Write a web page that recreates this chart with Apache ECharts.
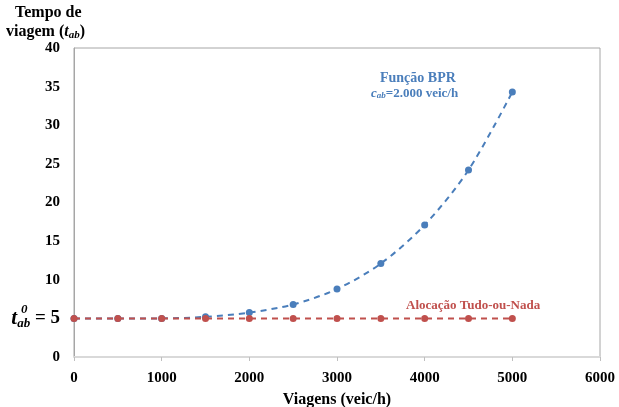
<!DOCTYPE html>
<html>
<head>
  <meta charset="UTF-8">
  <title>Função BPR</title>
  <script src="https://cdn.jsdelivr.net/npm/echarts@6/dist/echarts.min.js"></script>
  <style>
    html, body { margin: 0; padding: 0; background: #fff; }
    #chart { width: 619px; height: 407px; }
  </style>
</head>
<body>
  <div id="chart"></div>
  <script>
    // viagens (veic/h)
    var viagens = [0, 500, 1000, 1500, 2000, 2500, 3000, 3500, 4000, 4500, 5000];
    // tempo de viagem - função BPR
    var tempoBPR = [5, 5, 5.0, 5.2, 5.75, 6.8, 8.8, 12.1, 17.1, 24.2, 34.3];
    // alocação tudo-ou-nada
    var tempoTON = [5, 5, 5, 5, 5, 5, 5, 5, 5, 5, 5];

    var azul = '#4a7ebb';
    var vermelho = '#c0504d';
    var fonte = '"Liberation Serif", "Times New Roman", serif';

    function pares(xs, ys) {
      return xs.map(function (x, i) { return [x, ys[i]]; });
    }

    var chart = echarts.init(document.getElementById('chart'));

    var option = {
      animation: false,
      textStyle: { fontFamily: fonte },
      grid: {
        left: 74, right: 19, top: 48, bottom: 50,
        outerBoundsMode: 'none',
        containLabel: false,
        show: true, borderColor: '#a6a6a6', borderWidth: 1
      },
      xAxis: {
        type: 'value',
        min: 0, max: 6000, interval: 1000,
        name: 'Viagens (veic/h)',
        nameLocation: 'middle',
        nameGap: 35,
        nameTextStyle: { fontFamily: fonte, fontWeight: 'bold', fontSize: 16, color: '#000' },
        axisLine: { show: true, lineStyle: { color: '#d9d9d9', width: 2 } },
        axisTick: { show: true, length: 4, lineStyle: { color: '#bfbfbf' } },
        axisLabel: {
          fontFamily: fonte, fontWeight: 'bold', fontSize: 15, color: '#000', margin: 14,
          formatter: function (v) { return String(v); }
        },
        splitLine: { show: false }
      },
      yAxis: {
        type: 'value',
        min: 0, max: 40, interval: 5,
        axisLine: { show: true, lineStyle: { color: '#a6a6a6', width: 1 } },
        axisTick: { show: false },
        splitLine: { show: false },
        axisLabel: {
          fontFamily: fonte, fontWeight: 'bold', fontSize: 15, color: '#000', margin: 14,
          formatter: function (v) {
            if (v === 5) return '{t|t}{sub|ab}{eq| = 5}';
            return String(v);
          },
          rich: {
            t: { fontFamily: fonte, fontWeight: 'bold', fontStyle: 'italic', fontSize: 21, color: '#000' },
            sub: { fontFamily: fonte, fontWeight: 'bold', fontStyle: 'italic', fontSize: 13, color: '#000',
                   verticalAlign: 'bottom', padding: [10, 0, 0, 0] },
            eq: { fontFamily: fonte, fontWeight: 'bold', fontSize: 19, color: '#000' }
          }
        }
      },
      graphic: [
        {
          type: 'text', left: 15, top: 5,
          style: {
            text: 'Tempo de',
            fontFamily: fonte, fontWeight: 'bold', fontSize: 16, fill: '#000'
          }
        },
        {
          type: 'text', left: 6, top: 24,
          style: {
            text: '{n|viagem (}{t|t}{s|ab}{n|)}',
            rich: {
              n: { fontFamily: fonte, fontWeight: 'bold', fontSize: 16, fill: '#000' },
              t: { fontFamily: fonte, fontWeight: 'bold', fontStyle: 'italic', fontSize: 16, fill: '#000' },
              s: { fontFamily: fonte, fontWeight: 'bold', fontStyle: 'italic', fontSize: 11, fill: '#000',
                   verticalAlign: 'bottom', padding: [6, 0, 0, 0] }
            }
          }
        },
        {
          // expoente "0" de t0ab
          type: 'text', left: 21, top: 303,
          style: {
            text: '0',
            fontFamily: fonte, fontWeight: 'bold', fontStyle: 'italic', fontSize: 13, fill: '#000'
          }
        },
        {
          type: 'text', left: 380, top: 71,
          style: {
            text: 'Função BPR',
            fontFamily: fonte, fontWeight: 'bold', fontSize: 14, fill: azul
          }
        },
        {
          type: 'text', left: 371, top: 87,
          style: {
            text: '{c|c}{s|ab}{n|=2.000 veic/h}',
            rich: {
              c: { fontFamily: fonte, fontWeight: 'bold', fontStyle: 'italic', fontSize: 13, fill: azul },
              s: { fontFamily: fonte, fontWeight: 'bold', fontStyle: 'italic', fontSize: 9, fill: azul,
                   verticalAlign: 'bottom', padding: [5, 0, 0, 0] },
              n: { fontFamily: fonte, fontWeight: 'bold', fontSize: 13, fill: azul }
            }
          }
        },
        {
          type: 'text', left: 406, top: 299,
          style: {
            text: 'Alocação Tudo-ou-Nada',
            fontFamily: fonte, fontWeight: 'bold', fontSize: 13, fill: vermelho
          }
        }
      ],
      series: [
        {
          name: 'Função BPR',
          type: 'line',
          smooth: 0.3,
          data: pares(viagens, tempoBPR),
          symbol: 'circle',
          symbolSize: 7,
          itemStyle: { color: azul },
          lineStyle: { color: azul, width: 2, type: [6, 5] },
          z: 2
        },
        {
          name: 'Alocação Tudo-ou-Nada',
          type: 'line',
          data: pares(viagens, tempoTON),
          symbol: 'circle',
          symbolSize: 7,
          itemStyle: { color: vermelho },
          lineStyle: { color: vermelho, width: 2, type: [6, 5] },
          z: 3
        }
      ]
    };

    chart.setOption(option);
  </script>
</body>
</html>
